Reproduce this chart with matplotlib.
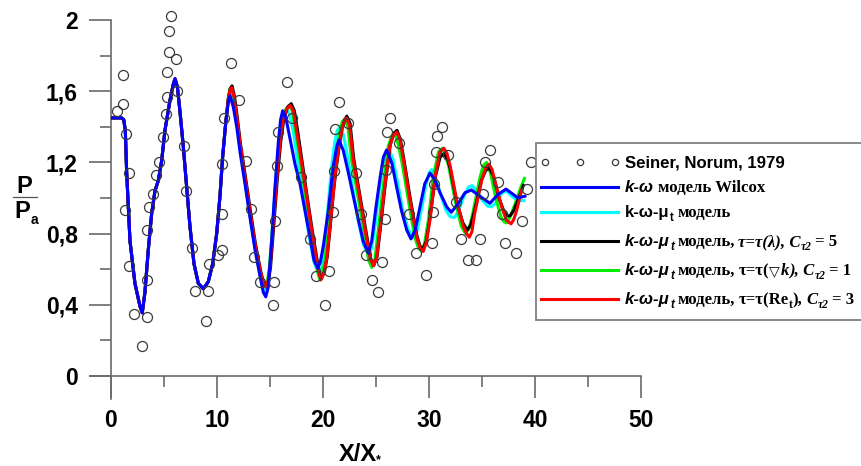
import matplotlib
matplotlib.use("Agg")
import matplotlib.pyplot as plt
from matplotlib.transforms import IdentityTransform
from matplotlib.font_manager import FontProperties
from matplotlib.lines import Line2D
from matplotlib.patches import Rectangle

# ---------------- data ----------------
# experiment: Seiner, Norum, 1979
exp_x = [0.54, 1.16, 1.1, 1.42, 1.67, 1.35, 1.73, 2.17, 2.92, 3.43, 3.43, 3.43, 3.62, 3.93,
         4.25, 4.56, 4.87, 5.19, 5.31, 5.31, 5.44, 5.44, 5.63, 6.1, 6.2, 6.89, 7.1, 7.61,
         7.92, 9.18, 8.96, 9.21, 10.1, 10.5, 10.5, 10.5, 10.66, 11.3, 12.1, 12.7, 13.2,
         13.5, 14.06, 15.35, 15.25, 15.5, 15.7, 15.75, 16.6, 17.1, 17.9, 18.8, 19.3, 20.6,
         20.2, 20.9, 21.0, 21.1, 21.5, 22.4, 23.1, 23.6, 24.06, 24.6, 25.2, 25.6, 25.85,
         25.9, 26.0, 26.3, 27.2, 28.1, 28.8, 29.7, 30.3, 30.4, 30.5, 30.7, 30.8, 31.2, 31.8,
         32.5, 33.0, 33.7, 34.4, 34.8, 35.1, 35.3, 35.8, 36.5, 36.9, 37.2, 38.2, 38.8,
         39.2, 39.6]
exp_y = [1.49, 1.69, 1.53, 1.36, 1.14, 0.93, 0.62, 0.35, 0.17, 0.33, 0.54, 0.82, 0.95, 1.02,
         1.13, 1.20, 1.34, 1.47, 1.57, 1.71, 1.82, 1.94, 2.02, 1.78, 1.60, 1.29, 1.04, 0.72,
         0.48, 0.48, 0.31, 0.63, 0.68, 0.71, 0.91, 1.19, 1.45, 1.76, 1.55, 1.21, 0.94,
         0.67, 0.53, 0.53, 0.40, 0.87, 1.18, 1.37, 1.65, 1.45, 1.12, 0.77, 0.56, 0.59,
         0.40, 0.92, 1.15, 1.39, 1.54, 1.42, 1.14, 0.91, 0.68, 0.54, 0.47, 0.64, 0.88,
         1.16, 1.37, 1.45, 1.31, 0.91, 0.69, 0.57, 0.75, 0.92, 1.08, 1.26, 1.35, 1.40, 1.24,
         0.98, 0.77, 0.65, 0.65, 0.77, 1.02, 1.20, 1.27, 1.09, 0.91, 0.75, 0.69, 0.87,
         1.05, 1.20]

# part shared by all five computed curves (x < 11)
common_pts = [(0, 1.45), (0.5, 1.45), (1.0, 1.45), (1.2, 1.44), (1.35, 1.38), (1.48, 1.14),
              (1.79, 0.76), (2.26, 0.52), (2.74, 0.39), (2.95, 0.355), (3.2, 0.47), (3.52, 0.71),
              (3.84, 0.915), (4.15, 1.04), (4.47, 1.10), (4.78, 1.21), (5.09, 1.38), (5.57, 1.55),
              (5.88, 1.64), (6.04, 1.67), (6.26, 1.625), (6.5, 1.49), (6.82, 1.29), (7.14, 1.06),
              (7.45, 0.84), (7.83, 0.63), (8.24, 0.52), (8.71, 0.49), (9.18, 0.53), (9.59, 0.63),
              (9.97, 0.80), (10.28, 1.01), (10.53, 1.23), (10.82, 1.42)]

wilcox_pts = [(11.07, 1.54), (11.23, 1.575), (11.54, 1.51), (11.86, 1.40), (12.17, 1.26),
              (12.64, 1.08), (13.1, 0.895), (13.58, 0.71), (14.06, 0.56), (14.37, 0.47),
              (14.6, 0.445), (14.84, 0.50), (15.16, 0.76), (15.47, 1.06), (15.78, 1.31),
              (16.0, 1.44), (16.2, 1.49), (16.5, 1.45), (16.9, 1.33), (17.36, 1.19),
              (17.83, 1.08), (18.3, 0.93), (18.77, 0.78), (19.15, 0.65), (19.5, 0.605),
              (19.75, 0.64), (20.03, 0.73), (20.5, 0.93), (20.97, 1.18), (21.3, 1.29),
              (21.5, 1.326), (21.9, 1.27), (22.4, 1.14), (22.86, 1.01), (23.33, 0.88),
              (23.8, 0.755), (24.27, 0.69), (24.6, 0.76), (25.0, 0.95), (25.4, 1.12),
              (25.7, 1.23), (26.0, 1.27), (26.5, 1.195), (26.95, 1.06), (27.4, 0.93),
              (27.9, 0.82), (28.3, 0.77), (28.7, 0.82), (29.15, 0.95), (29.6, 1.08),
              (30.1, 1.14), (30.57, 1.10), (31.04, 1.03), (31.67, 0.95), (32.1, 0.92),
              (32.77, 0.97), (33.4, 1.03), (34.0, 1.045), (34.8, 1.01), (35.75, 0.97),
              (36.5, 1.02), (37.26, 1.05), (37.95, 1.02), (38.4, 1.00), (39.05, 1.01)]

mut_pts = [(11.07, 1.56), (11.3, 1.61), (11.55, 1.56), (11.86, 1.44), (12.17, 1.29),
           (12.64, 1.10), (13.1, 0.91), (13.58, 0.73), (14.06, 0.58), (14.35, 0.50),
           (14.58, 0.47), (14.8, 0.52), (15.05, 0.68), (15.35, 0.94), (15.65, 1.19),
           (15.95, 1.37), (16.25, 1.46), (16.57, 1.50), (16.85, 1.47), (17.2, 1.37),
           (17.7, 1.17), (18.2, 0.97), (18.7, 0.78), (19.15, 0.64), (19.6, 0.57),
           (19.9, 0.61), (20.2, 0.76), (20.5, 0.97), (20.8, 1.17), (21.1, 1.31),
           (21.35, 1.38), (21.6, 1.40), (21.9, 1.36), (22.3, 1.24), (22.8, 1.06),
           (23.3, 0.88), (23.8, 0.74), (24.3, 0.68), (24.6, 0.72), (24.95, 0.86),
           (25.3, 1.04), (25.65, 1.18), (25.95, 1.25), (26.25, 1.27), (26.6, 1.22),
           (27.0, 1.10), (27.5, 0.94), (28.0, 0.83), (28.5, 0.78), (28.9, 0.82),
           (29.3, 0.94), (29.7, 1.07), (30.0, 1.14), (30.25, 1.16), (30.6, 1.12),
           (31.1, 1.02), (31.6, 0.93), (32.0, 0.895), (32.4, 0.89), (32.8, 0.93),
           (33.3, 1.01), (33.7, 1.06), (34.05, 1.07), (34.5, 1.04), (35.0, 0.99),
           (35.5, 0.955), (35.9, 0.95), (36.4, 0.98), (36.9, 1.03), (37.3, 1.04),
           (37.8, 1.01), (38.4, 0.985), (38.96, 0.985)]

lambda_pts = [(11.07, 1.56), (11.25, 1.615), (11.42, 1.63), (11.65, 1.57), (11.9, 1.46),
              (12.2, 1.31), (12.68, 1.12), (13.15, 0.93), (13.62, 0.745), (14.1, 0.595),
              (14.4, 0.52), (14.65, 0.50), (14.85, 0.53), (15.05, 0.61), (15.35, 0.84),
              (15.68, 1.10), (16.0, 1.31), (16.3, 1.44), (16.65, 1.51), (17.0, 1.53),
              (17.3, 1.49), (17.6, 1.38), (18.05, 1.195), (18.5, 1.01), (18.98, 0.82),
              (19.45, 0.65), (19.7, 0.57), (19.88, 0.55), (20.15, 0.59), (20.4, 0.67),
              (20.7, 0.85), (21.0, 1.04), (21.25, 1.17), (21.5, 1.28), (21.8, 1.39),
              (22.05, 1.44), (22.25, 1.46), (22.55, 1.42), (22.9, 1.22), (23.55, 0.99),
              (24.15, 0.78), (24.5, 0.66), (24.78, 0.62), (25.1, 0.67), (25.45, 0.85),
              (25.9, 1.09), (26.35, 1.30), (26.7, 1.365), (26.98, 1.38), (27.3, 1.33),
              (27.65, 1.21), (28.25, 0.99), (28.85, 0.79), (29.15, 0.73), (29.42, 0.71),
              (29.75, 0.76), (30.1, 0.89), (30.6, 1.12), (31.05, 1.23), (31.45, 1.25),
              (31.8, 1.21), (32.05, 1.15), (32.6, 0.98), (33.2, 0.86), (33.6, 0.82),
              (33.95, 0.85), (34.3, 0.93), (34.95, 1.10), (35.35, 1.155), (35.7, 1.17),
              (36.1, 1.12), (36.6, 1.00), (37.1, 0.92), (37.4, 0.90), (37.65, 0.90),
              (38.0, 0.93), (38.4, 0.99), (38.9, 1.07)]

gradk_pts = [(11.07, 1.56), (11.2, 1.61), (11.35, 1.62), (11.55, 1.58), (11.8, 1.47),
             (12.1, 1.32), (12.58, 1.12), (13.05, 0.93), (13.53, 0.745), (14.0, 0.595),
             (14.32, 0.52), (14.58, 0.50), (14.75, 0.53), (14.95, 0.61), (15.25, 0.84),
             (15.58, 1.10), (15.88, 1.31), (16.18, 1.44), (16.5, 1.50), (16.8, 1.52),
             (17.1, 1.49), (17.4, 1.38), (17.88, 1.195), (18.35, 1.01), (18.83, 0.82),
             (19.3, 0.65), (19.55, 0.57), (19.72, 0.54), (19.95, 0.58), (20.2, 0.66),
             (20.5, 0.84), (20.8, 1.03), (21.05, 1.16), (21.3, 1.27), (21.6, 1.38),
             (21.82, 1.43), (22.02, 1.44), (22.35, 1.40), (22.7, 1.21), (23.35, 0.99),
             (23.95, 0.78), (24.3, 0.65), (24.6, 0.61), (24.9, 0.66), (25.25, 0.84),
             (25.7, 1.08), (26.15, 1.29), (26.5, 1.35), (26.8, 1.36), (27.1, 1.30),
             (27.45, 1.20), (28.05, 0.99), (28.65, 0.78), (29.0, 0.72), (29.3, 0.70),
             (29.6, 0.75), (29.95, 0.88), (30.4, 1.12), (30.9, 1.26), (31.3, 1.28),
             (31.65, 1.22), (31.85, 1.18), (32.45, 0.99), (33.05, 0.84), (33.45, 0.80),
             (33.8, 0.83), (34.15, 0.92), (34.75, 1.10), (35.1, 1.18), (35.42, 1.20),
             (35.8, 1.14), (36.3, 1.00), (36.8, 0.89), (37.1, 0.865), (37.35, 0.86),
             (37.7, 0.90), (38.2, 0.98), (38.6, 1.05), (39.0, 1.11)]

ret_pts = [(11.07, 1.56), (11.25, 1.61), (11.38, 1.62), (11.6, 1.57), (11.86, 1.46),
           (12.17, 1.31), (12.64, 1.12), (13.1, 0.93), (13.58, 0.745), (14.06, 0.595),
           (14.37, 0.52), (14.62, 0.50), (14.8, 0.53), (15.0, 0.61), (15.3, 0.84),
           (15.63, 1.10), (15.94, 1.31), (16.25, 1.44), (16.57, 1.50), (16.9, 1.52),
           (17.2, 1.49), (17.5, 1.38), (17.99, 1.195), (18.46, 1.01), (18.93, 0.82),
           (19.4, 0.65), (19.65, 0.57), (19.8, 0.54), (20.1, 0.58), (20.35, 0.66),
           (20.66, 0.84), (20.97, 1.03), (21.2, 1.16), (21.45, 1.27), (21.76, 1.38),
           (22.0, 1.43), (22.2, 1.45), (22.5, 1.41), (22.86, 1.21), (23.5, 0.99),
           (24.1, 0.78), (24.45, 0.66), (24.75, 0.62), (25.05, 0.66), (25.4, 0.84),
           (25.85, 1.08), (26.3, 1.29), (26.65, 1.355), (26.95, 1.37), (27.25, 1.33),
           (27.6, 1.21), (28.2, 0.99), (28.84, 0.78), (29.15, 0.72), (29.46, 0.70),
           (29.75, 0.75), (30.1, 0.88), (30.57, 1.12), (31.04, 1.26), (31.4, 1.28),
           (31.7, 1.25), (32.0, 1.18), (32.6, 0.99), (33.24, 0.84), (33.55, 0.80),
           (33.8, 0.78), (34.05, 0.81), (34.3, 0.91), (34.97, 1.10), (35.35, 1.17),
           (35.66, 1.19), (35.95, 1.16), (36.2, 1.10), (36.86, 0.95), (37.3, 0.875),
           (37.74, 0.855), (38.0, 0.88), (38.27, 0.93), (38.74, 1.045)]

x_ticks = [0, 10, 20, 30, 40, 50]
x_ticklabels = ["0", "10", "20", "30", "40", "50"]
y_ticks = [0, 0.4, 0.8, 1.2, 1.6, 2.0]
y_ticklabels = ["0", "0,4", "0,8", "1,2", "1,6", "2"]

# ---------------- figure ----------------
W, H = 862, 466
fig = plt.figure(figsize=(W / 100, H / 100), dpi=100)
ax = fig.add_axes([111 / W, 1 - 376 / H, 530 / W, 356 / H])
ax.set_xlim(0, 50)
ax.set_ylim(0, 2)
for s in ax.spines.values():
    s.set_visible(False)

axis_col = "#6a6a6a"
# axis lines (left line extends below the x-axis, bottom line extends left)
ax.plot([0, 0], [-23 / 356, 1], transform=ax.transAxes, color=axis_col, lw=1.2, clip_on=False)
ax.plot([-21 / 530, 1], [0, 0], transform=ax.transAxes, color=axis_col, lw=1.2, clip_on=False)

tick_font = FontProperties(family="Liberation Sans", weight="bold", size=16.5)
ax.set_xticks(x_ticks)
ax.set_xticklabels(x_ticklabels, fontproperties=tick_font)
ax.set_yticks(y_ticks)
ax.set_yticklabels(y_ticklabels, fontproperties=tick_font)
ax.set_xticks([5, 15, 25, 35, 45], minor=True)
ax.set_yticks([0.2, 0.6, 1.0, 1.4, 1.8], minor=True)
ax.tick_params(which="major", direction="out", length=16, width=1.2, color=axis_col)
ax.tick_params(which="minor", direction="out", length=8, width=1.2, color=axis_col)
ax.tick_params(axis="x", which="major", pad=8)
ax.tick_params(axis="y", which="major", pad=8)


def unzip(pts):
    return [p[0] for p in pts], [p[1] for p in pts]


cx, cy = unzip(common_pts)
lw = 2.2
for pts, col, z in [(mut_pts, "#00ffff", 2.0), (gradk_pts, "#00ee00", 2.1),
                    (lambda_pts, "#000000", 2.2), (ret_pts, "#ff0000", 2.3),
                    (wilcox_pts, "#0000ff", 2.4)]:
    px, py = unzip(pts)
    ax.plot(cx + px, cy + py, color=col, lw=lw, zorder=z, solid_joinstyle="round")

ax.plot(exp_x, exp_y, linestyle="none", marker="o", ms=7.2, mfc="none",
        mec="#3a3a3a", mew=0.9, zorder=3, clip_on=False)

# ---------------- axis titles ----------------
T = IdentityTransform()
lab_font = FontProperties(family="Liberation Sans", weight="bold", size=17)
fig.text(358, H - 461, "X/X", fontproperties=lab_font, transform=T, ha="center", va="baseline")
fig.text(376, H - 463, "*", fontproperties=FontProperties(family="Liberation Sans", weight="bold", size=9),
         transform=T, ha="left", va="baseline")
fig.text(24, H - 193, "P", fontproperties=lab_font, transform=T, ha="center", va="baseline")
fig.add_artist(Line2D([13, 37], [H - 197, H - 197], transform=T, color="#555555", lw=0.9))
fig.text(22, H - 218, "P", fontproperties=lab_font, transform=T, ha="center", va="baseline")
fig.text(30.5, H - 224, "a", fontproperties=FontProperties(family="Liberation Sans", weight="bold", size=10),
         transform=T, ha="left", va="baseline")

# ---------------- legend ----------------
fig.add_artist(Rectangle((536, H - 320), 420, 177, transform=T, facecolor="white",
                         edgecolor="#808080", lw=1.3, zorder=5))

fs = 12.1
sub = 8.3
SB = FontProperties(family="Liberation Sans", weight="bold", size=fs)
SBI = FontProperties(family="Liberation Sans", weight="bold", style="italic", size=fs)
SBs = FontProperties(family="Liberation Sans", weight="bold", size=sub)
SBIs = FontProperties(family="Liberation Sans", weight="bold", style="italic", size=sub)
RB = FontProperties(family="Liberation Serif", weight="bold", size=fs)
RBI = FontProperties(family="Liberation Serif", weight="bold", style="italic", size=fs)
RBs = FontProperties(family="Liberation Serif", weight="bold", size=sub)
RBIs = FontProperties(family="Liberation Serif", weight="bold", style="italic", size=sub)
DV = FontProperties(family="DejaVu Sans", size=fs - 2)

renderer = fig.canvas.get_renderer()
SP = 3.2


def draw_parts(x, y, parts):
    for gap, s, fp, dy in parts:
        x += gap
        t = fig.text(x, y + dy, s, fontproperties=fp, transform=T, ha="left",
                     va="baseline", zorder=6)
        x += t.get_window_extent(renderer).width + 0.3


ty = [162, 187, 212, 241, 270, 299]
text_x = 625
base = lambda y: H - y - 5

fig.add_artist(Line2D([545, 580, 615], [H - ty[0]] * 3, transform=T, ls="none", marker="o",
                      ms=4.5, mfc="none", mec="#3a3a3a", mew=0.9, zorder=6))
legend_cols = ["#0000ff", "#00ffff", "#000000", "#00ee00", "#ff0000"]
for yy, col in zip(ty[1:], legend_cols):
    fig.add_artist(Line2D([541, 618], [H - yy, H - yy], transform=T, color=col, lw=2.2, zorder=6))

mu_head = [(0, "k-ω-μ", SBI, 0), (0, "t", SBIs, -4)]
draw_parts(text_x, base(ty[0]), [(0, "Seiner, Norum, 1979", SB, 0)])
draw_parts(text_x, base(ty[1]), [(0, "k-ω", SBI, 0), (SP, "модель Wilcox", RB, 0)])
draw_parts(text_x, base(ty[2]), [(0, "k-ω-μ", SB, 0), (0, "t", SBs, -4), (SP, "модель", RB, 0)])
draw_parts(text_x, base(ty[3]), mu_head + [(SP, "модель,", RB, 0), (SP, "τ=τ(λ), C", RBI, 0),
                                           (0, "τ2", RBIs, -4), (SP, "= 5", RB, 0)])
draw_parts(text_x, base(ty[4]), mu_head + [(SP, "модель,", RB, 0), (SP, "τ=τ(", RB, 0),
                                           (0, "▽", DV, 0), (0, "k", RBI, 0), (0, "), C", RBI, 0),
                                           (0, "τ2", RBIs, -4), (SP, "= 1", RB, 0)])
draw_parts(text_x, base(ty[5]), mu_head + [(SP, "модель,", RB, 0), (SP, "τ=τ(Re", RB, 0),
                                           (0, "t", RBs, -4), (0, "),", RB, 0), (SP, "C", RBI, 0),
                                           (0, "τ2", RBIs, -4), (SP, "= 3", RB, 0)])

fig.savefig("out.png", dpi=100)
